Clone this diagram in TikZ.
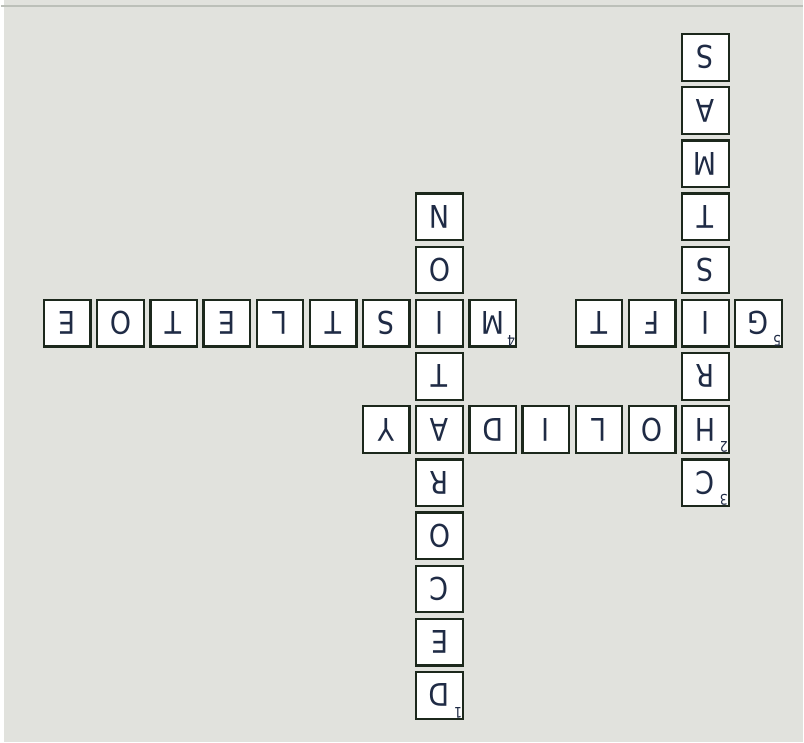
\documentclass[tikz,border=0pt]{standalone}
\usepackage{fontspec}
\setmainfont{DejaVu Sans}
\newfontfamily\cellfont{DejaVu Sans}[FakeStretch=0.86]
\definecolor{bgcol}{HTML}{E1E2DD}
\definecolor{topline}{HTML}{BCC0B9}
\definecolor{cellline}{HTML}{1C281C}
\definecolor{letter}{HTML}{1F2B45}
\begin{document}
\begin{tikzpicture}[x=0.75pt, y=-0.75pt,
	cell/.style={draw=cellline, line width=1.7pt, fill=white, minimum size=35pt, inner sep=0pt, rotate=180, text=letter, font=\cellfont\fontsize{23.5}{23.5}\selectfont},
	num/.style={anchor=north west, rotate=180, inner sep=1.2pt, text=letter, font=\cellfont\fontsize{11}{11}\selectfont}]
				% 1. 背景与上边线
				\fill[bgcol] (0,0) rectangle (804,744);
				\fill[white] (0,0) rectangle (3,744);
				\draw[topline, line width=1.5pt] (0,6) -- (804,6);
				\useasboundingbox (0,0) rectangle (804,744);
				
				% 2. 字母格 (整体旋转180度, 列 c, 行 r)
				\foreach \c/\r/\ch in {7/3/N, 7/4/O, 7/5/I, 7/6/T, 7/7/A, 7/8/R, 7/9/O, 7/10/C, 7/11/E, 7/12/D,
						12/0/S, 12/1/A, 12/2/M, 12/3/T, 12/4/S, 12/5/I, 12/6/R, 12/7/H, 12/8/C,
						0/5/E, 1/5/O, 2/5/T, 3/5/E, 4/5/L, 5/5/T, 6/5/S, 8/5/M,
						10/5/T, 11/5/F, 13/5/G,
						6/7/Y, 8/7/D, 9/7/I, 10/7/L, 11/7/O}
					\node[cell] (c\c-\r) at ({66.5+53.3*\c},{57.5+53.3*\r}) {\ch};
				
				% 3. 编号 (旋转后位于右下角)
				\node[num] (n1) at (c7-12.north west) {1};
				\node[num] (n2) at (c12-7.north west) {2};
				\node[num] (n3) at (c12-8.north west) {3};
				\node[num] (n4) at (c8-5.north west) {4};
				\node[num] (n5) at (c13-5.north west) {5};
			\end{tikzpicture}
\end{document}
